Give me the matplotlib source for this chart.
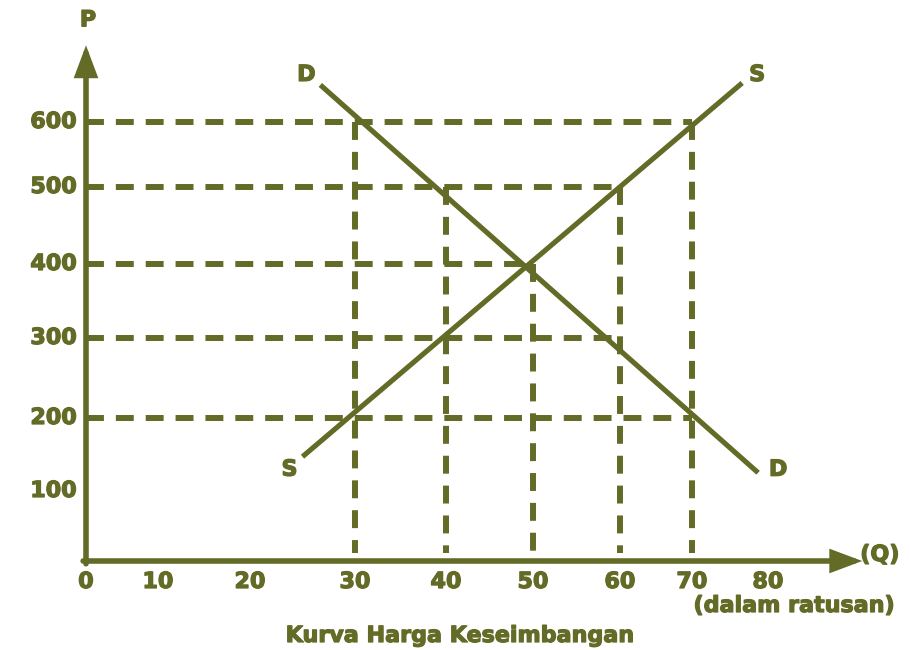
#kurva_harga_keseimbangan.py
#
#Supply and demand chart (Kurva Harga Keseimbangan), olive line drawing.

import numpy as np
import matplotlib
matplotlib.use('Agg')
import matplotlib.pyplot as plt
import matplotlib.patheffects as pe

plt.rcParams['font.family'] = 'DejaVu Sans'
plt.rcParams['font.weight'] = 'bold'

#==================================================================================================
#			DATA
#==================================================================================================
#Tick values
q_ticks = [0, 10, 20, 30, 40, 50, 60, 70, 80]
p_ticks = [100, 200, 300, 400, 500, 600]

#Horizontal guide lines (price level, quantity where it ends)
price_levels = [600, 500, 400, 300, 200]
price_q_end = [70, 60, 50, 60, 70]
#Vertical guide lines (quantity, price where it starts)
qty_levels = [30, 40, 50, 60, 70]
qty_p_top = [600, 500, 400, 500, 600]

#Curves (end points)
demand_q = [26.7, 78.7]
demand_p = [657, 125]
supply_q = [25.0, 76.6]
supply_p = [147, 660]

#==================================================================================================
#			STYLE / SCALE
#==================================================================================================
color = '#636b27'
fs = 16
bold = [pe.withStroke( linewidth=0.9, foreground=color )]

#The drawing is hand made: the grid is not evenly spaced, so use piecewise linear scales
q_knots = [-20, 0, 10, 20, 30, 40, 50, 60, 70, 80, 130]
x_pix = [-58, 86, 158, 250, 355, 446, 533, 620, 692, 768, 1148]
p_knots = [-200, 0, 100, 200, 300, 400, 500, 600, 1000]
y_pix = [-51, 89, 159, 232, 312, 386, 463, 528, 788]

def piecewise( knots, pos ):
    knots = np.asarray( knots, float )
    pos = np.asarray( pos, float )
    fwd = lambda v: np.interp( np.asarray(v, float), knots, pos )
    inv = lambda v: np.interp( np.asarray(v, float), pos, knots )
    return fwd, inv

fx, fx_inv = piecewise( q_knots, x_pix )
fy, fy_inv = piecewise( p_knots, y_pix )

#==================================================================================================
#			PLOT
#==================================================================================================
fig = plt.figure( figsize=(9.1, 6.5), dpi=100 )
ax = fig.add_axes( [0, 0, 1, 1] )
ax.set_xscale( 'function', functions=(fx, fx_inv) )
ax.set_yscale( 'function', functions=(fy, fy_inv) )
ax.set_xlim( fx_inv(0), fx_inv(910) )
ax.set_ylim( fy_inv(0), fy_inv(650) )
ax.axis( 'off' )

#Dashed guides
for p, qe in zip( price_levels, price_q_end ):
    ax.plot( [0, qe], [p, p], color=color, lw=4.3, dashes=(3, 2), dash_capstyle='butt', zorder=2 )
for q, pt in zip( qty_levels, qty_p_top ):
    ax.plot( [q, q], [pt, 12], color=color, lw=4.3, dashes=(3, 2), dash_capstyle='butt', zorder=2 )

#Curves
ax.plot( demand_q, demand_p, color=color, lw=3.7, solid_capstyle='butt', zorder=3 )
ax.plot( supply_q, supply_p, color=color, lw=3.7, solid_capstyle='butt', zorder=3 )

#Axes with arrows
arrow = dict( arrowstyle='-|>,head_length=0.8,head_width=0.3', mutation_scale=20, lw=4,
              color=color, shrinkA=0, shrinkB=0, joinstyle='miter' )
ax.annotate( '', xy=(92.4, 0), xytext=(-0.4, 0), arrowprops=arrow, zorder=4 )
ax.annotate( '', xy=(0, 718), xytext=(0, -4), arrowprops=arrow, zorder=4 )

#Tick labels
for q in q_ticks:
    ax.annotate( str(q), (q, 0), xytext=(0, -21), textcoords='offset pixels',
                 ha='center', va='center', color=color, fontsize=fs, path_effects=bold )
for p in p_ticks:
    ax.annotate( str(p), (0, p), xytext=(-9, 0), textcoords='offset pixels',
                 ha='right', va='center', color=color, fontsize=fs, path_effects=bold )

#Curve labels
ax.annotate( 'D', (demand_q[0], demand_p[0]), xytext=(-14, 10), textcoords='offset pixels',
             ha='center', va='center', color=color, fontsize=fs, path_effects=bold )
ax.annotate( 'D', (demand_q[1], demand_p[1]), xytext=(20, 3), textcoords='offset pixels',
             ha='center', va='center', color=color, fontsize=fs, path_effects=bold )
ax.annotate( 'S', (supply_q[0], supply_p[0]), xytext=(-13, -13), textcoords='offset pixels',
             ha='center', va='center', color=color, fontsize=fs, path_effects=bold )
ax.annotate( 'S', (supply_q[1], supply_p[1]), xytext=(15, 8), textcoords='offset pixels',
             ha='center', va='center', color=color, fontsize=fs, path_effects=bold )

#Axis names and title
ax.annotate( 'P', (0, 718), xytext=(2, 25), textcoords='offset pixels',
             ha='center', va='center', color=color, fontsize=fs, path_effects=bold )
ax.annotate( '(Q)', (92.4, 0), xytext=(-2, 6), textcoords='offset pixels',
             ha='left', va='center', color=color, fontsize=fs, path_effects=bold )
fig.text( 895/910., 1 - 606/650., '(dalam ratusan)', ha='right', va='center', color=color,
          fontsize=fs, path_effects=bold )
fig.text( 460/910., 1 - 636/650., 'Kurva Harga Keseimbangan', ha='center', va='center', color=color,
          fontsize=fs, path_effects=bold )

plt.savefig( 'out.png', dpi=100 )
